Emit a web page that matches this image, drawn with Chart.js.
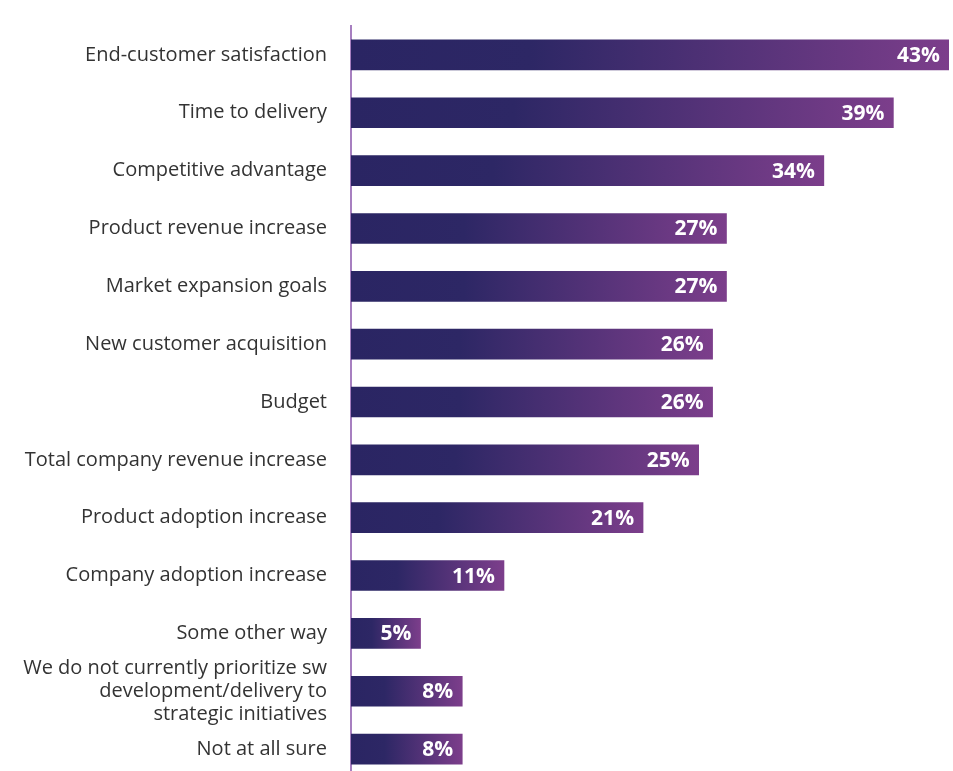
<!DOCTYPE html>
<html>
<head>
<meta charset="utf-8">
<script src="https://cdn.jsdelivr.net/npm/chart.js@4/dist/chart.umd.min.js"></script>
<style>
  html, body { margin: 0; padding: 0; background: #fff; overflow: hidden; }
  canvas { display: block; }
</style>
</head>
<body>
<canvas id="chart" width="953" height="788" style="width:953px;height:788px"></canvas>
<script>
// categories and values
var categories = [
  'End-customer satisfaction',
  'Time to delivery',
  'Competitive advantage',
  'Product revenue increase',
  'Market expansion goals',
  'New customer acquisition',
  'Budget',
  'Total company revenue increase',
  'Product adoption increase',
  'Company adoption increase',
  'Some other way',
  ['We do not currently prioritize sw', 'development/delivery to', 'strategic initiatives'],
  'Not at all sure'
];
var shares = [43, 39, 34, 27, 27, 26, 26, 25, 21, 11, 5, 8, 8];

// gradient from navy to purple along each bar
function barGradient(ctx) {
  var chart = ctx.chart;
  if (!chart.chartArea) return '#2b2562';
  var x = chart.scales.x;
  var x0 = x.getPixelForValue(0);
  var x1 = x.getPixelForValue(ctx.raw);
  var g = chart.ctx.createLinearGradient(x0, 0, x1, 0);
  g.addColorStop(0, '#2a2563');
  g.addColorStop(0.3, '#2d2765');
  g.addColorStop(1, '#7c3e8b');
  return g;
}

// white percentage at the end of every bar
var valueLabels = {
  id: 'valueLabels',
  afterDatasetsDraw: function (chart) {
    var c = chart.ctx;
    var meta = chart.getDatasetMeta(0);
    c.save();
    c.fillStyle = '#ffffff';
    c.font = 'bold 21px "Open Sans", sans-serif';
    c.textAlign = 'right';
    c.textBaseline = 'middle';
    meta.data.forEach(function (bar, i) {
      c.fillText(shares[i] + '%', bar.x - 9, bar.y + 1);
    });
    c.restore();
  }
};

new Chart(document.getElementById('chart'), {
  type: 'bar',
  data: {
    labels: categories,
    datasets: [{
      data: shares,
      backgroundColor: barGradient,
      barThickness: 30
    }]
  },
  options: {
    indexAxis: 'y',
    responsive: false,
    animation: false,
    layout: { padding: { top: 26, right: 4, bottom: 10, left: 0 } },
    plugins: {
      legend: { display: false },
      tooltip: { enabled: false }
    },
    scales: {
      x: { display: false, min: 0, max: 43 },
      y: {
        grid: { display: false, drawTicks: false },
        border: { display: true, color: '#a77fc0', width: 2 },
        afterFit: function (scale) {
          scale.width = 351;
          scale.paddingTop = 0;
          scale.paddingBottom = 0;
        },
        ticks: {
          padding: 24,
          color: '#333333',
          font: { family: '"Open Sans", sans-serif', size: 20, lineHeight: 1.13 },
          autoSkip: false
        }
      }
    }
  },
  plugins: [valueLabels]
});
</script>
</body>
</html>
